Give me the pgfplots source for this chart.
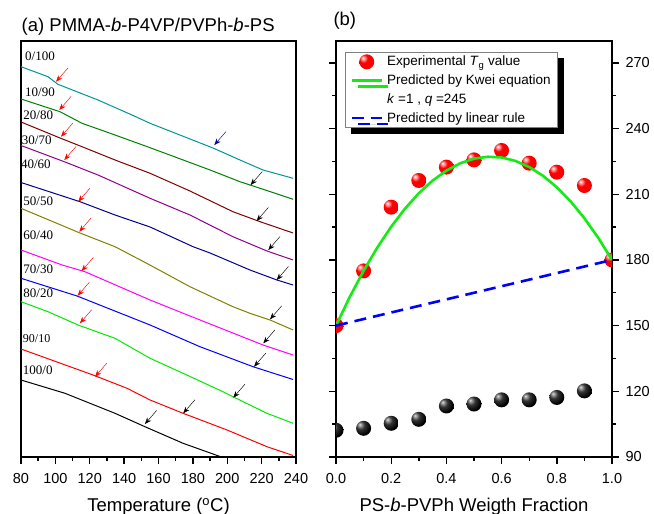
\documentclass[border=0pt]{standalone}
\usepackage{fontspec}
\setmainfont{Liberation Sans}
\newfontfamily\timesfont{Liberation Serif}
\usepackage{pgfplots}
\pgfplotsset{compat=1.18}
\usetikzlibrary{arrows.meta,shadows}
\definecolor{cteal}{RGB}{0,150,150}
\definecolor{cgreen}{RGB}{0,128,0}
\definecolor{cmaroon}{RGB}{128,0,0}
\definecolor{cpurple}{RGB}{140,0,140}
\definecolor{cnavy}{RGB}{0,0,140}
\definecolor{colive}{RGB}{128,128,0}
\definecolor{cmag}{RGB}{255,0,255}
\definecolor{cblue}{RGB}{0,0,255}
\definecolor{clime}{RGB}{0,235,0}
\definecolor{cred}{RGB}{255,0,0}
\definecolor{kwei}{RGB}{20,235,20}
\pgfdeclareradialshading{redballsh}{\pgfpoint{-13bp}{13bp}}{color(0bp)=(white); color(4bp)=(white!70!red); color(14bp)=(red); color(42bp)=(red!92!black); color(60bp)=(red!70!black); color(80bp)=(red!70!black)}
\pgfdeclareradialshading{blackballsh}{\pgfpoint{-13bp}{13bp}}{color(0bp)=(white!90!black); color(4bp)=(white!65!black); color(14bp)=(black!80); color(30bp)=(black); color(80bp)=(black)}
\pgfdeclareplotmark{redball}{\pgfpathcircle{\pgfpointorigin}{\pgfplotmarksize}\pgfshadepath{redballsh}{0}\pgfusepath{}}
\pgfdeclareplotmark{blackball}{\pgfpathcircle{\pgfpointorigin}{\pgfplotmarksize}\pgfshadepath{blackballsh}{0}\pgfusepath{}}
\pgfplotsset{
  common/.style={
    scale only axis, anchor=south west,
    tick align=outside, major tick length=7pt, minor tick length=4pt,
    axis line style={line width=1.6pt},
    tick style={line width=1.4pt, black},
    ticklabel style={font=\fontsize{14.5}{16}\selectfont},
    xticklabel style={yshift=-6pt},
    /pgf/number format/assume math mode=true,
    xlabel style={at={(axis description cs:0.5,0)}, anchor=base, yshift=-54.5pt, font=\fontsize{18.5}{20}\selectfont},
  },
  curve/.style={line width=1pt},
}
\begin{document}
\begin{tikzpicture}[x=1pt,y=1pt]
\useasboundingbox (0,0) rectangle (654,514);
% ---------------- panel (a)
\begin{axis}[common,
  at={(21pt,57pt)}, width=275pt, height=416pt,
  xmin=80, xmax=240, ymin=0, ymax=416,
  xtick={80,100,...,240}, minor x tick num=1, ytick=\empty, xtick pos=left,
  xlabel={Temperature (\textsuperscript{o}C)},
]
\addplot[curve, cteal] coordinates {(80,390.3)(95.7,380.3)(101.5,372.7)(124.8,357)(144.6,342)(155.1,333.7)(191.7,309)(207.4,297)(220.8,287)(238.3,278.7)};
\addplot[curve, cgreen] coordinates {(80,358)(102.7,345.3)(115.5,333.7)(134.7,322)(155.1,309.3)(190,287)(207.4,275.3)(219.1,268.7)(238.3,257.7)};
\addplot[curve, cmaroon] coordinates {(80,335)(102.7,319)(115.5,310.3)(134.7,297)(155.1,283.7)(178.3,266)(203.3,245.3)(219.1,235.3)(238.3,224)};
\addplot[curve, cpurple] coordinates {(80,311.5)(105.6,295)(124.8,282)(155.1,258.7)(178.3,242)(203.3,220.3)(223.1,206)(238.3,197)};
\addplot[curve, cnavy] coordinates {(80,274.5)(114.3,255.3)(134.7,242)(155.1,230)(180.1,210.3)(190,204)(213.2,187)(228.9,177)(238.3,172)};
\addplot[curve, colive] coordinates {(80,248.7)(114.3,224)(134.7,210.3)(153.9,193)(178.3,170.3)(203.3,150.3)(213.2,143.7)(224.9,137)(238.3,127)};
\addplot[curve, cmag] coordinates {(80,207)(103.9,192)(117.2,185.3)(155.1,157)(178.3,141)(194,130.3)(220.8,112)(238.3,102)};
\addplot[curve, cblue] coordinates {(80,178.7)(112.6,161)(155.1,132)(184.1,110.3)(215,90.3)(238.3,77.5)};
\addplot[curve, clime] coordinates {(80,155.3)(95.7,145.3)(113.2,132)(134.7,118.7)(155.1,98.7)(174.3,83.7)(197.5,65.3)(203.3,60.3)(223.1,43.7)(238.3,33.7)};
\addplot[curve, cred] coordinates {(80,108)(121.9,82)(141.7,68.7)(155.1,57)(174.3,43.7)(199.9,27)(223.1,10.3)(238.3,1.5)};
\addplot[curve, black] coordinates {(80,77)(105.6,63.7)(134.7,43.7)(152.1,30.3)(174.3,13.7)(195.8,0.5)(197,-0.5)};
% arrows (tail x, tail y, u, v)
\addplot[red, line width=0.45pt, -{Stealth[length=6.5pt,width=5pt]}, quiver={u=\thisrow{u},v=\thisrow{v}}] table {
x y u v
107.2 388.8 -6.8 -13.5
109.1 360.5 -6.8 -13.5
110.1 333.8 -6.8 -13.5
112.0 310.5 -6.8 -13.5
120.1 268.8 -6.8 -13.5
120.7 238.8 -6.8 -13.5
122.1 199.5 -6.8 -13.5
119.8 174.8 -6.8 -13.5
121.1 147.2 -6.8 -13.5
129.9 93.8 -6.8 -13.5
};
\addplot[black, line width=0.45pt, -{Stealth[length=6.5pt,width=5pt]}, quiver={u=\thisrow{u},v=\thisrow{v}}] table {
x y u v
220.4 285.5 -6.8 -13.5
223.9 249.5 -6.8 -13.5
230.7 220.5 -6.8 -13.5
235.6 190.5 -6.8 -13.5
231.7 151.2 -6.8 -13.5
227.8 127.2 -6.8 -13.5
222.4 103.8 -6.8 -13.5
210.3 72.8 -6.8 -13.5
181.2 57.2 -6.8 -13.5
158.9 46.5 -6.8 -13.5
};
\addplot[cnavy, line width=0.45pt, -{Stealth[length=6.5pt,width=5pt]}, quiver={u=\thisrow{u},v=\thisrow{v}}] table {
x y u v
199.3 325.5 -6.8 -13.5
};
\begin{scope}[every node/.style={anchor=west, inner sep=0pt, font=\timesfont\fontsize{13}{13}\selectfont}]
\node at (axis cs:82.3,401) {0/100};
\node at (axis cs:82.3,364.7) {10/90};
\node at (axis cs:81.3,342) {20/80};
\node at (axis cs:80.4,317) {30/70};
\node at (axis cs:79.9,292.7) {40/60};
\node at (axis cs:81.3,256) {50/50};
\node at (axis cs:81.3,222) {60/40};
\node at (axis cs:81.3,187.7) {70/30};
\node at (axis cs:81.3,163.7) {80/20};
\node[font=\timesfont\fontsize{12}{12}\selectfont] at (axis cs:81.0,118.7) {90/10};
\node at (axis cs:81.0,86.3) {100/0};
\end{scope}
\end{axis}
% ---------------- panel (b)
\begin{axis}[common,
  at={(336pt,57pt)}, width=276pt, height=416pt,
  xmin=0, xmax=1, ymin=90, ymax=280,
  xtick={0,0.2,0.4,0.6,0.8,1}, minor x tick num=1,
  ytick={90,120,150,180,210,240,270}, minor y tick num=1,
  xtick pos=left, ytick pos=both, yticklabel pos=right,
  yticklabel style={xshift=3pt},
  xticklabel style={/pgf/number format/.cd, fixed, fixed zerofill, precision=1},
  xlabel={PS-\textit{b}-PVPh Weigth Fraction},
  clip marker paths=true,
  legend image code/.code={\draw[mark repeat=2,mark phase=2,#1] plot coordinates {(0pt,0pt) (15pt,0pt) (30pt,0pt)};},
  legend cell align=left,
  legend style={at={(axis description cs:0.033,0.974)}, anchor=north west,
    draw=gray, line width=0.7pt, fill=white,
    font=\fontsize{13.5}{15}\selectfont,
    drop shadow={shadow xshift=6pt, shadow yshift=-6pt, fill=black, opacity=1},
    inner xsep=5pt, inner ysep=2pt, row sep=3.5pt, column sep=2pt},
]
\addplot[only marks, mark=redball, mark size=7.5pt] coordinates {
(0,150)(0.1,175)(0.2,204.1)(0.3,216.3)(0.4,222.4)(0.5,225.7)(0.6,230)(0.7,224.2)(0.8,220.1)(0.9,214)(1.0,180)};
\addlegendentry{Experimental \textit{T}\textsubscript{g} value}
\addplot[only marks, mark=blackball, mark size=7.5pt, forget plot] coordinates {
(0,102.2)(0.1,103.1)(0.2,105.4)(0.3,107.2)(0.4,113.3)(0.5,114.2)(0.6,116.1)(0.7,116.1)(0.8,117.2)(0.9,120.2)};
\addplot[kwei, line width=2.6pt] coordinates {
(0,150)(0.05,163.14)(0.1,175.05)(0.15,185.74)(0.2,195.2)(0.25,203.44)(0.3,210.45)(0.35,216.24)(0.4,220.8)(0.45,224.14)(0.5,226.25)(0.55,227.14)(0.6,226.8)(0.65,225.24)(0.7,222.45)(0.75,218.44)(0.8,213.2)(0.85,206.74)(0.9,199.05)(0.95,190.14)(1.0,180)};
\addlegendentry{Predicted by Kwei equation}
\addlegendimage{empty legend}
\addlegendentry{\textit{k} =1 , \textit{q} =245}
\addplot[cblue, line width=2.6pt, dash pattern=on 12pt off 7pt] coordinates {(0,150)(1,180)};
\addlegendentry{Predicted by linear rule}
\end{axis}
% panel titles
\node[anchor=base west, inner sep=0pt, font=\fontsize{18.5}{20}\selectfont] at (21.5,482.5) {(a) PMMA-\textit{b}-P4VP/PVPh-\textit{b}-PS};
\node[anchor=base west, inner sep=0pt, font=\fontsize{18.5}{20}\selectfont] at (333.3,488) {(b)};
\end{tikzpicture}
\end{document}
